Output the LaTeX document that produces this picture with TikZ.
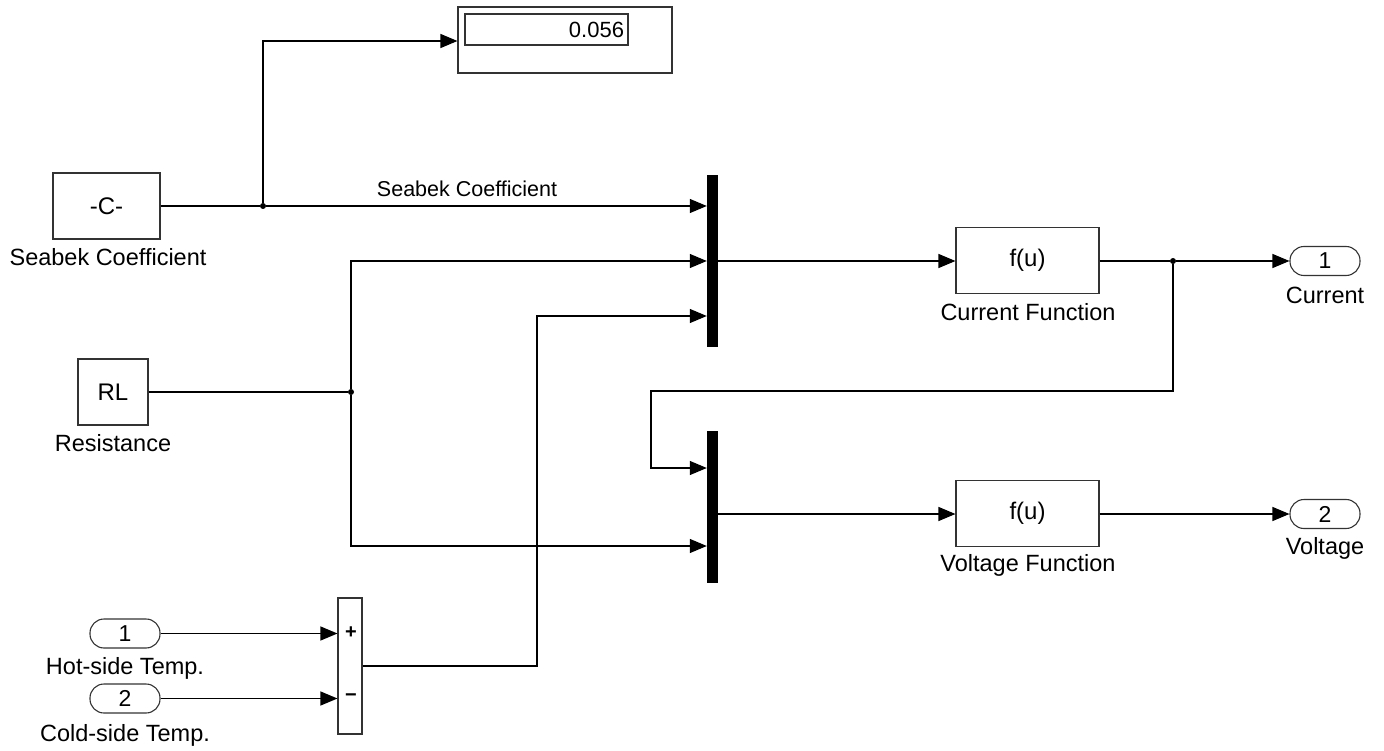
\documentclass[tikz,border=0pt]{standalone}
\usepackage{fontspec}
\setmainfont{Liberation Sans}
\usetikzlibrary{arrows.meta}
\begin{document}
\begin{tikzpicture}[x=1pt,y=-1pt,
  blk/.style={draw=black!80, line width=1.1pt, fill=white, inner sep=0pt, font=\fontsize{24}{26}\selectfont},
  port/.style={draw=black!80, line width=1.1pt, rounded corners=14pt, minimum width=70, minimum height=29, inner sep=0pt, font=\fontsize{23}{25}\selectfont},
  bar/.style={fill=black, draw=none, minimum width=11, inner sep=0pt},
  lbl/.style={inner sep=0pt, font=\fontsize{23.5}{26}\selectfont},
  sig/.style={line width=1.2pt, -{Triangle[length=17pt,width=14pt]}},
  wire/.style={line width=1.2pt},
  dot/.style={circle, fill=black, inner sep=0pt, minimum size=6pt}]
\useasboundingbox (0,0) rectangle (1384,751);

% blocks
\node[blk, minimum width=214, minimum height=66] (disp) at (565,40) {};
\node[draw=black!80, line width=1.1pt, minimum height=31, text width=155, align=right, inner xsep=4, inner ysep=0pt, font=\fontsize{22}{24}\selectfont] (dispv) at (546.5,29.5) {0.056};

\node[blk, minimum width=107, minimum height=66] (cst) at (106.5,206) {-C-};
\node[lbl] (cstl) at (108,257) {Seabek Coefficient};

\node[blk, minimum width=70, minimum height=66] (rl) at (113,392) {RL};
\node[lbl] (rll) at (113,443) {Resistance};

\node[bar, minimum height=172] (mux1) at (712.5,261) {};
\node[bar, minimum height=152] (mux2) at (712.5,507) {};

\node[blk, minimum width=143, minimum height=66] (cf) at (1027.5,260.5) {f(u)};
\node[lbl] (cfl) at (1028,312) {Current Function};
\node[blk, minimum width=143, minimum height=66] (vf) at (1027.5,513.5) {f(u)};
\node[lbl] (vfl) at (1028,565) {Voltage Function};

\node[port] (o1) at (1325,261) {1};
\node[lbl] (o1l) at (1325,295) {Current};
\node[port] (o2) at (1325,514) {2};
\node[lbl] (o2l) at (1325,548) {Voltage};

\node[blk, minimum width=24, minimum height=136] (sum) at (350,666) {};
\node[lbl, font=\bfseries\fontsize{20}{22}\selectfont] (plus) at (351,633) {+};
\node[lbl, font=\bfseries\fontsize{20}{22}\selectfont] (minus) at (351,698) {\textminus};

\node[port] (i1) at (125,633.5) {1};
\node[lbl] (i1l) at (125,668) {Hot-side Temp.};
\node[port] (i2) at (125,698.5) {2};
\node[lbl] (i2l) at (125,735) {Cold-side Temp.};

% junctions / points
\node[dot] (jc) at (263,206) {};
\node[dot] (jr) at (351,392) {};
\node[dot] (jo) at (1173,261) {};
\coordinate (m1a) at (mux1.west |- 0,206);
\coordinate (m1c) at (mux1.west |- 0,316);
\coordinate (m2a) at (mux2.west |- 0,468);
\coordinate (m2b) at (mux2.west |- 0,546);
\coordinate (m2o) at (mux2.east |- 0,514);
\coordinate (sj) at (537,666);
\coordinate (fb) at (651,391);

% connectors
\draw[wire] (cst.east) -- (jc);
\draw[sig] (jc) -- (m1a);
\node[lbl, font=\fontsize{21.5}{24}\selectfont] (sl) at (467,189) {Seabek Coefficient};
\draw[sig] (jc) |- (disp.west |- 0,41);
\draw[wire] (rl.east) -- (jr);
\draw[sig] (jr) |- (mux1.west);
\draw[sig] (jr) |- (m2b);
\draw[sig] (sum.east) -- (sj) |- (m1c);
\draw[sig] (i1.east) -- (sum.west |- i1.east);
\draw[sig] (i2.east) -- (sum.west |- i2.east);
\draw[sig] (mux1.east) -- (cf.west |- mux1.east);
\draw[wire] (cf.east |- jo) -- (jo);
\draw[sig] (jo) -- (o1.west);
\draw[sig] (jo) |- (fb) |- (m2a);
\draw[sig] (m2o) -- (vf.west |- m2o);
\draw[sig] (vf.east |- o2) -- (o2.west);
\end{tikzpicture}
\end{document}
